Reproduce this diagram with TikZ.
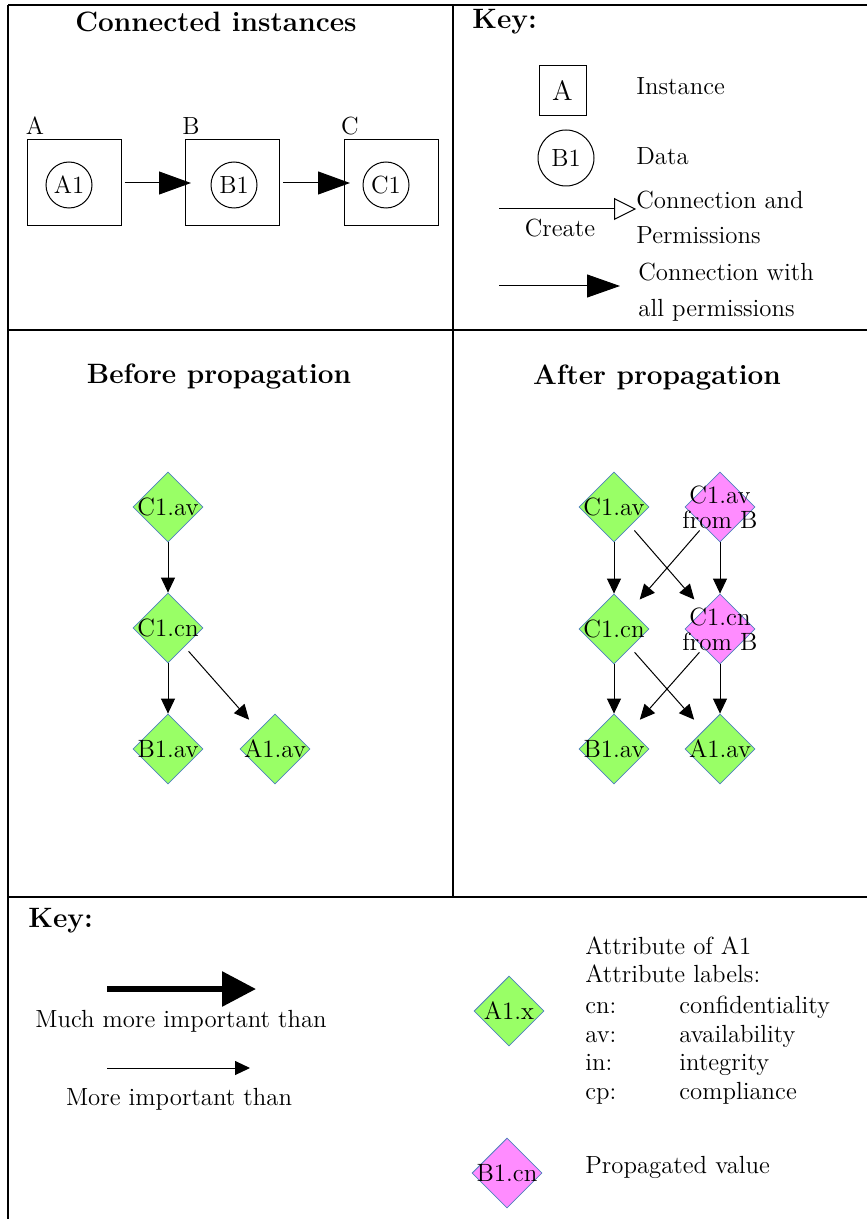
\documentclass[tikz,border=0pt]{standalone}
\usetikzlibrary{arrows.meta,shapes.geometric}
\definecolor{attrgreen}{RGB}{153,255,102}
\definecolor{proppink}{RGB}{255,140,255}
\definecolor{dialine}{RGB}{79,129,189}
\begin{document}
\begin{tikzpicture}[x=0.5pt,y=-0.5pt,
  every node/.style={font=\fontsize{12.4}{14}\selectfont, inner sep=0pt},
  frame/.style={line width=0.75pt},
  title/.style={font=\fontsize{14}{16}\selectfont\bfseries},
  txt/.style={anchor=west, text height=8.6pt, text depth=2.4pt},
  instbox/.style={draw, line width=0.5pt, minimum width=47pt, minimum height=43pt},
  datacirc/.style={draw, circle, line width=0.5pt, minimum size=23pt},
  attr/.style={draw=dialine, line width=0.4pt, fill=attrgreen, diamond,
    minimum width=35pt, minimum height=35pt, aspect=1},
  prop/.style={attr, fill=proppink},
  dlabel/.style={align=center, font=\fontsize{12.5}{12.5}\selectfont},
  link/.style={line width=0.5pt, -{Triangle[length=16pt,width=11.5pt]}},
  dep/.style={line width=0.5pt, -{Triangle[length=7.5pt,width=7pt]}},
  diag/.style={dep, shorten <=3pt, shorten >=7pt},
]
\useasboundingbox (0,0) rectangle (867,1219);

% panel frame
\draw[frame] (8,5) -- (867,5);
\draw[frame] (8,5) -- (8,1219);
\draw[frame] (8,330) -- (867,330);
\draw[frame] (8,897) -- (867,897);
\draw[frame] (453,5) -- (453,897);

% ---- connected instances ----
\node[title] (t1) at (216,22) {Connected instances};
\node (la) at (35,126) {A};
\node (lb) at (191,126) {B};
\node (lc) at (350,126) {C};
\node[instbox] (ia) at (74,183) {};
\node[instbox] (ib) at (232.5,183) {};
\node[instbox] (ic) at (391.5,183) {};
\node[datacirc] (da) at (69,185) {A1};
\node[datacirc] (db) at (234,185) {B1};
\node[datacirc] (dc) at (386,185) {C1};
\draw[link, shorten <=1.5pt, shorten >=-3pt] (ia) -- (ib);
\draw[link, shorten <=1.5pt, shorten >=-3pt] (ib) -- (ic);

% ---- key (top) ----
\node[title, anchor=west] (k1) at (472,22) {Key:};
\node[draw, line width=0.5pt, minimum width=23.5pt, minimum height=25pt,
  font=\fontsize{14}{16}\selectfont] (kbox) at (562.5,91) {A};
\node[txt] (kinst) at (636,88) {Instance};
\node[draw, circle, line width=0.5pt, minimum size=28pt] (kcirc) at (566,158) {B1};
\node[txt] (kdata) at (636,158) {Data};
\coordinate (cr1) at (499,209);
\coordinate (cr2) at (636,209);
\draw[line width=0.5pt, -{Triangle[open,length=11pt,width=11pt]}] (cr1) -- (cr2);
\node (kcreate) at (560,228) {Create};
\node[txt] (kc1) at (636,202) {Connection and};
\node[txt] (kc2) at (636,237) {Permissions};
\coordinate (ca1) at (499,286);
\coordinate (ca2) at (620,286);
\draw[line width=0.5pt, -{Triangle[length=16.5pt,width=11.5pt]}] (ca1) -- (ca2);
\node[txt] (kw1) at (638,274) {Connection with};
\node[txt] (kw2) at (638,310) {all permissions};

% ---- before propagation ----
\node[title] (t2) at (219,377) {Before propagation};
\node[attr, label={[dlabel]center:C1.av}] (bcav) at (168,507) {};
\node[attr, label={[dlabel]center:C1.cn}] (bccn) at (168,628) {};
\node[attr, label={[dlabel]center:B1.av}] (bbav) at (168,749) {};
\node[attr, label={[dlabel]center:A1.av}] (baav) at (275,749) {};
\draw[dep] (bcav) -- (bccn);
\draw[dep] (bccn) -- (bbav);
\draw[diag] (bccn) -- (baav);

% ---- after propagation ----
\node[title] (t3) at (657,378) {After propagation};
\node[attr, label={[dlabel]center:C1.av}] (acav) at (614,507) {};
\node[prop, label={[dlabel]center:C1.av\\from B}] (acavb) at (720,507) {};
\node[attr, label={[dlabel]center:C1.cn}] (accn) at (614,629) {};
\node[prop, label={[dlabel]center:C1.cn\\from B}] (accnb) at (720,629) {};
\node[attr, label={[dlabel]center:B1.av}] (abav) at (614,749) {};
\node[attr, label={[dlabel]center:A1.av}] (aaav) at (720,749) {};
\draw[dep] (acav) -- (accn);
\draw[dep] (acavb) -- (accnb);
\draw[diag] (acav) -- (accnb);
\draw[diag] (acavb) -- (accn);
\draw[dep] (accn) -- (abav);
\draw[dep] (accnb) -- (aaav);
\draw[diag] (accn) -- (aaav);
\draw[diag] (accnb) -- (abav);

% ---- key (bottom) ----
\node[title, anchor=west] (k2) at (28,921) {Key:};
\coordinate (mm1) at (107,989);
\coordinate (mm2) at (256,989);
\draw[line width=3pt, -{Triangle[length=17pt,width=17pt]}] (mm1) -- (mm2);
\node (kmuch) at (181,1021) {Much more important than};
\coordinate (mi1) at (107,1068);
\coordinate (mi2) at (250,1068);
\draw[line width=0.5pt, -{Triangle[length=7.5pt,width=7pt]}] (mi1) -- (mi2);
\node (kmore) at (179,1099) {More important than};

\node[attr, label={[dlabel]center:A1.x}] (kattr) at (509,1011) {};
\node[prop, label={[dlabel]center:B1.cn}] (kprop) at (507,1173) {};
\node[txt] (ka1) at (585,948) {Attribute of A1};
\node[txt] (ka2) at (585,976) {Attribute labels:};
\node[txt] (kcn) at (585,1007) {cn:};
\node[txt] (kcnv) at (679,1007) {confidentiality};
\node[txt] (kav) at (585,1036) {av:};
\node[txt] (kavv) at (679,1036) {availability};
\node[txt] (kin) at (585,1064) {in:};
\node[txt] (kinv) at (679,1064) {integrity};
\node[txt] (kcp) at (585,1093) {cp:};
\node[txt] (kcpv) at (679,1093) {compliance};
\node[txt] (kpv) at (585,1167) {Propagated value};
\end{tikzpicture}
\end{document}
